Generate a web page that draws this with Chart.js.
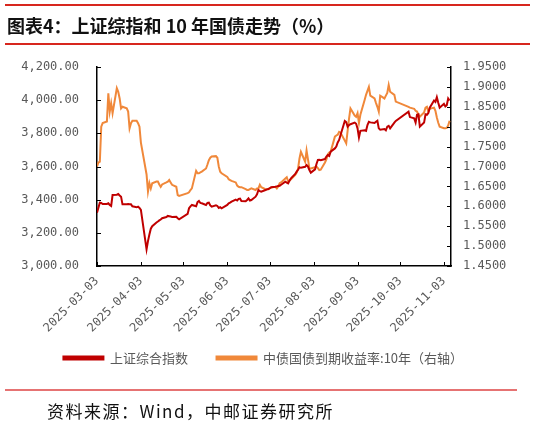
<!DOCTYPE html>
<html>
<head>
<meta charset="utf-8">
<script src="https://cdn.jsdelivr.net/npm/chart.js@4.4.1/dist/chart.umd.min.js"></script>
<style>
  html, body { margin: 0; padding: 0; background: #fff; }
  #wrap { position: relative; width: 541px; height: 425px; overflow: hidden; }
  #chart { position: absolute; left: 0; top: 0; }
  .rule { position: absolute; left: 5px; width: 525px; height: 1.5px; background: #d7261e; }
  #title { position: absolute; left: 7px; top: 12px; font: bold 18px "Noto Sans CJK SC", sans-serif; color: #111; white-space: nowrap; }
  #source { position: absolute; left: 47px; top: 398px; font: 17px "Noto Sans CJK SC", sans-serif; color: #111; letter-spacing: 1.5px; white-space: nowrap; }
</style>
</head>
<body>
<div id="wrap">
  <canvas id="chart" width="541" height="425"></canvas>
  <div class="rule" style="top:4px"></div>
  <div id="title">图表4：上证综指和 10 年国债走势（%）</div>
  <div class="rule" style="top:43px"></div>
  <div class="rule" style="top:389px; width:512px; background:#e67373"></div>
  <div id="source">资料来源：Wind，中邮证券研究所</div>
</div>
<script>
// 上证综合指数 (left axis)
const sseDates = [
  '03-03','03-05','03-06','03-07','03-10','03-11','03-12','03-13','03-14','03-17','03-18','03-19','03-20','03-21',
  '03-24','03-25','03-26','03-27','03-28','03-31','04-01','04-02','04-03','04-07','04-08','04-09','04-10','04-11',
  '04-14','04-15','04-16','04-17','04-18','04-21','04-22','04-23','04-24','04-25','04-28','04-29','04-30',
  '05-06','05-07','05-08','05-09','05-12','05-13','05-14','05-15','05-16','05-19','05-20','05-21','05-22','05-23',
  '05-26','05-27','05-28','05-29','05-30','06-03','06-04','06-05','06-06','06-09','06-10','06-11','06-12','06-13',
  '06-16','06-17','06-18','06-19','06-20','06-23','06-24','06-25','06-26','06-27','06-30','07-01','07-02','07-03','07-04',
  '07-07','07-08','07-09','07-10','07-11','07-14','07-15','07-16','07-17','07-18','07-21','07-22','07-23','07-24','07-25',
  '07-28','07-29','07-30','07-31','08-01','08-04','08-05','08-06','08-07','08-08','08-11','08-12','08-13','08-14','08-15',
  '08-18','08-19','08-20','08-21','08-22','08-25','08-26','08-27','08-28','08-29','09-01','09-02','09-03','09-04','09-05',
  '09-08','09-09','09-10','09-11','09-12','09-15','09-16','09-17','09-18','09-19','09-22','09-23','09-24','09-25','09-26',
  '09-29','09-30','10-09','10-10','10-13','10-14','10-15','10-16','10-17','10-20','10-21','10-22','10-23','10-24',
  '10-27','10-28','10-29','10-30','10-31','11-03','11-04','11-05','11-06','11-07'
];
const sseClose = [
  3321,3382,3380,3374,3374,3378,3368,3362,3428,3430,3434,3425,3418,3372,
  3372,3374,3372,3372,3360,3354,3358,3350,3338,3100,3150,3190,3225,3240,
  3262,3268,3275,3280,3288,3295,3302,3300,3298,3296,3297,3288,3282,
  3314,3348,3360,3368,3360,3385,3392,3380,3378,3368,3380,3382,3365,3358,
  3366,3362,3350,3355,3348,3368,3378,3382,3388,3400,3395,3405,3406,3392,
  3390,3398,3408,3395,3398,3418,3432,3458,3452,3448,3458,3462,3464,3469,3475,
  3478,3480,3482,3484,3490,3508,3503,3498,3515,3529,3555,3569,3580,3595,3592,
  3598,3609,3600,3579,3563,3583,3615,3639,3640,3638,3645,3660,3669,3664,3690,
  3709,3720,3745,3760,3790,3875,3868,3840,3850,3855,3865,3858,3830,3775,3815,
  3818,3815,3850,3870,3866,3862,3870,3876,3830,3822,3826,3818,3840,3845,3830,
  3865,3875,3930,3898,3890,3865,3912,3915,3840,3865,3915,3912,3922,3955,
  3998,3990,4018,3985,3955,3978,3962,3970,4010,3998
];

// 中债国债到期收益率:10年 (right axis)
const cgbDates = [
  '03-03','03-04','03-05','03-06','03-07','03-10','03-11','03-12','03-13','03-14','03-17','03-18','03-19','03-20','03-21',
  '03-24','03-25','03-26','03-27','03-28','03-31','04-01','04-02','04-03','04-07','04-08','04-09','04-10','04-11',
  '04-14','04-15','04-16','04-17','04-18','04-21','04-22','04-23','04-24','04-25','04-28','04-29','04-30',
  '05-06','05-07','05-08','05-09','05-12','05-13','05-14','05-15','05-16','05-19','05-20','05-21','05-22','05-23',
  '05-26','05-27','05-28','05-29','05-30','06-03','06-04','06-05','06-06','06-09','06-10','06-11','06-12','06-13',
  '06-16','06-17','06-18','06-19','06-20','06-23','06-24','06-25','06-26','06-27','06-30','07-01','07-02','07-03','07-04',
  '07-07','07-08','07-09','07-10','07-11','07-14','07-15','07-16','07-17','07-18','07-21','07-22','07-23','07-24','07-25',
  '07-28','07-29','07-30','07-31','08-01','08-04','08-05','08-06','08-07','08-08','08-11','08-12','08-13','08-14','08-15',
  '08-18','08-19','08-20','08-21','08-22','08-25','08-26','08-27','08-28','08-29','09-01','09-02','09-03','09-04','09-05',
  '09-08','09-09','09-10','09-11','09-12','09-15','09-16','09-17','09-18','09-19','09-22','09-23','09-24','09-25','09-26',
  '09-29','09-30','10-09','10-10','10-13','10-14','10-15','10-16','10-17','10-20','10-21','10-22','10-23','10-24',
  '10-27','10-28','10-29','10-30','10-31','11-03','11-04','11-05','11-06','11-07'
];
const cgbYield = [
  1.700,1.710,1.712,1.800,1.809,1.813,1.884,1.838,1.859,1.834,1.897,1.888,1.871,1.846,1.850,
  1.846,1.838,1.796,1.809,1.815,1.815,1.809,1.800,1.760,1.680,1.637,1.658,1.645,1.658,
  1.662,1.662,1.655,1.649,1.655,1.660,1.662,1.666,1.660,1.654,1.649,1.628,1.626,
  1.633,1.635,1.641,1.645,1.689,1.683,1.683,1.685,1.687,1.695,1.705,1.716,1.722,1.725,
  1.726,1.722,1.700,1.687,1.683,1.674,1.668,1.666,1.664,1.660,1.652,1.649,1.648,1.648,
  1.643,1.641,1.641,1.643,1.645,1.641,1.645,1.645,1.654,1.648,1.643,1.643,1.643,1.645,1.647,
  1.649,1.645,1.650,1.658,1.660,1.670,1.673,1.662,1.665,1.668,1.679,1.685,1.695,1.720,1.737,
  1.712,1.740,1.718,1.695,1.695,1.698,1.700,1.696,1.691,1.692,1.710,1.718,1.730,1.735,1.737,
  1.775,1.778,1.780,1.787,1.785,1.765,1.758,1.790,1.820,1.846,1.828,1.825,1.834,1.809,1.830,
  1.867,1.880,1.890,1.900,1.878,1.871,1.860,1.850,1.838,1.878,1.871,1.878,1.885,1.905,1.888,
  1.880,1.863,1.850,1.848,1.845,1.840,1.838,1.830,1.825,1.836,1.848,1.850,1.838,1.845,
  1.848,1.840,1.823,1.810,1.800,1.796,1.796,1.797,1.803,1.815
];

const xTickDates = ['03-03','04-03','05-03','06-03','07-03','08-03','09-03','10-03','11-03'];
const xEndDate = '11-08';

// day offset from 2025-03-03 so the x axis runs on calendar days
const dayOf = s => {
  const [m, d] = s.split('-').map(Number);
  return (Date.UTC(2025, m - 1, d) - Date.UTC(2025, 2, 3)) / 86400000;
};
const xTicks = xTickDates.map(dayOf);

// tick marks point into the plot, as in the original
const innerTicks = {
  id: 'innerTicks',
  afterDraw(chart) {
    const { ctx, chartArea: a, scales } = chart;
    ctx.save();
    ctx.strokeStyle = '#000';
    ctx.lineWidth = 1;
    ctx.beginPath();
    scales.y.ticks.forEach(t => {
      const y = Math.round(scales.y.getPixelForValue(t.value)) + 0.5;
      ctx.moveTo(a.left, y); ctx.lineTo(a.left + 4, y);
    });
    scales.y1.ticks.forEach(t => {
      const y = Math.round(scales.y1.getPixelForValue(t.value)) + 0.5;
      ctx.moveTo(a.right, y); ctx.lineTo(a.right - 4, y);
    });
    scales.x.ticks.forEach(t => {
      const x = Math.round(scales.x.getPixelForValue(t.value)) + 0.5;
      ctx.moveTo(x, a.bottom); ctx.lineTo(x, a.bottom - 4);
    });
    ctx.stroke();
    ctx.restore();
  }
};

const tickFont = { family: '"DejaVu Sans Mono", monospace', size: 12 };

new Chart(document.getElementById('chart'), {
  type: 'line',
  data: {
    datasets: [
      {
        label: '上证综合指数',
        data: sseDates.map((d, i) => ({ x: dayOf(d), y: sseClose[i] })),
        yAxisID: 'y',
        borderColor: '#c00000',
        backgroundColor: '#c00000',
        borderWidth: 2,
        pointRadius: 0
      },
      {
        label: '中债国债到期收益率:10年（右轴）',
        data: cgbDates.map((d, i) => ({ x: dayOf(d), y: cgbYield[i] })),
        yAxisID: 'y1',
        borderColor: '#f0883a',
        backgroundColor: '#f0883a',
        borderWidth: 2,
        pointRadius: 0
      }
    ]
  },
  options: {
    responsive: false,
    animation: false,
    layout: { padding: { top: 67, bottom: 50.5, left: 0, right: 14.5 } },
    plugins: {
      legend: {
        position: 'bottom',
        labels: {
          boxWidth: 40,
          boxHeight: 3,
          padding: 19.5,
          color: '#595959',
          font: { family: '"Noto Sans CJK SC", sans-serif', size: 13 },
          generateLabels: chart => {
            const items = Chart.defaults.plugins.legend.labels.generateLabels(chart);
            items[0].text += '\u2002\u2009'; // a bit more room between the two entries
            return items;
          }
        }
      },
      tooltip: { enabled: false }
    },
    scales: {
      x: {
        type: 'linear',
        min: 0,
        max: dayOf(xEndDate),
        afterBuildTicks: s => { s.ticks = xTicks.map(v => ({ value: v })); },
        afterFit: s => { s.height = 66; },
        grid: { display: false, drawTicks: false },
        border: { display: true, color: '#000', width: 1.5 },
        ticks: {
          autoSkip: false,
          maxRotation: 45,
          minRotation: 45,
          padding: 8,
          color: '#595959',
          font: tickFont,
          callback: v => '2025-' + xTickDates[xTicks.indexOf(v)]
        }
      },
      y: {
        position: 'left',
        min: 3000,
        max: 4200,
        afterFit: s => { s.width = 97; },
        grid: { display: false, drawTicks: false },
        border: { display: true, color: '#000', width: 1.5 },
        ticks: {
          stepSize: 200,
          autoSkip: false,
          padding: 18,
          color: '#595959',
          font: tickFont,
          callback: v => v.toLocaleString('en-US', { minimumFractionDigits: 2, maximumFractionDigits: 2 })
        }
      },
      y1: {
        position: 'right',
        min: 1.45,
        max: 1.95,
        afterFit: s => { s.width = 75.5; },
        grid: { display: false, drawTicks: false },
        border: { display: true, color: '#000', width: 1.5 },
        ticks: {
          stepSize: 0.05,
          autoSkip: false,
          padding: 12,
          color: '#595959',
          font: tickFont,
          callback: v => v.toFixed(4)
        }
      }
    }
  },
  plugins: [innerTicks]
});
</script>
</body>
</html>
